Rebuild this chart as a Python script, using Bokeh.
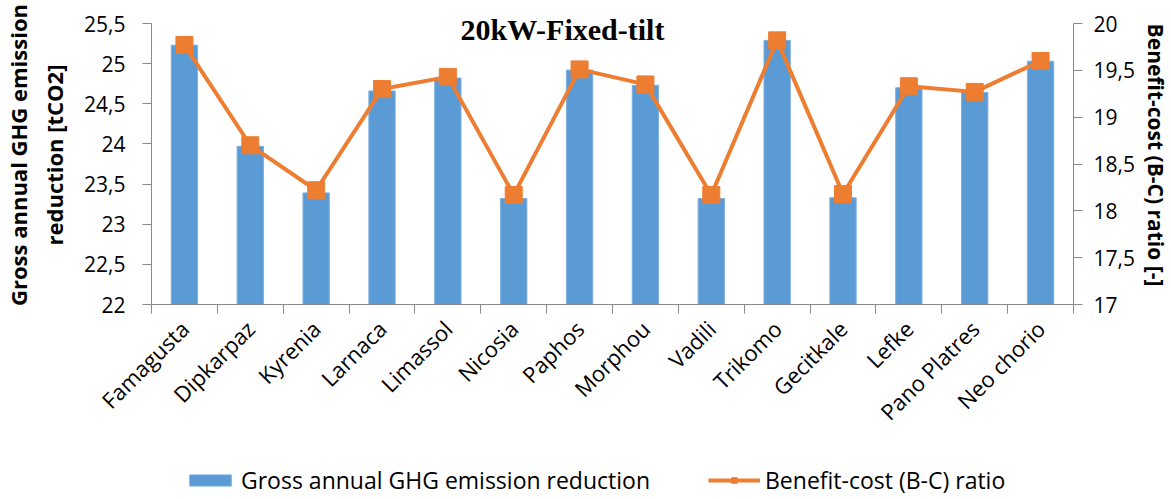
import math
from bokeh.plotting import figure
from bokeh.layouts import column
from bokeh.models import (Range1d, LinearAxis, FixedTicker, CustomJSTickFormatter,
                          Legend, LegendItem, Label, ColumnDataSource)
from bokeh.embed import file_html
from bokeh.resources import INLINE

# ---------------- data ----------------
categories = ["Famagusta", "Dipkarpaz", "Kyrenia", "Larnaca", "Limassol", "Nicosia",
              "Paphos", "Morphou", "Vadili", "Trikomo", "Gecitkale", "Lefke",
              "Pano Platres", "Neo chorio"]
ghg_reduction = [25.23, 23.97, 23.39, 24.66, 24.82, 23.32, 24.92, 24.73, 23.32,
                 25.29, 23.33, 24.70, 24.64, 25.03]
bc_ratio = [19.77, 18.70, 18.22, 19.30, 19.43, 18.17, 19.51, 19.35, 18.17,
            19.82, 18.18, 19.33, 19.27, 19.60]
left_ticks = [22, 22.5, 23, 23.5, 24, 24.5, 25, 25.5]
right_ticks = [17, 17.5, 18, 18.5, 19, 19.5, 20]
title_text = "20kW-Fixed-tilt"
left_label = "Gross annual GHG emission\nreduction [tCO2]"
right_label = "Benefit-cost (B-C) ratio [-]"
series_names = ["Gross annual GHG emission reduction", "Benefit-cost (B-C) ratio"]

BLUE = "#5B9BD5"
ORANGE = "#ED7D31"
AXIS = "#898989"
FONT = "Open Sans"

# layout: plot area of 281 px for the axes, plus headroom for the title
AXIS_PX = 281
HEAD_PX = 18
FRAME_W = 922
l_span = left_ticks[-1] - left_ticks[0]
r_span = right_ticks[-1] - right_ticks[0]
l_top = left_ticks[-1] + HEAD_PX * l_span / AXIS_PX
r_top = right_ticks[-1] + HEAD_PX * r_span / AXIS_PX

xpos = [i + 0.5 for i in range(len(categories))]
src = ColumnDataSource(dict(x=xpos, cat=categories, ghg=ghg_reduction, bc=bc_ratio))

p = figure(frame_width=FRAME_W, frame_height=AXIS_PX + HEAD_PX, output_backend="svg",
           toolbar_location=None,
           x_range=Range1d(0, len(categories)), y_range=Range1d(left_ticks[0], l_top),
           min_border_left=145, min_border_right=95, min_border_top=5,
           min_border_bottom=155)
p.extra_y_ranges = {"bc": Range1d(right_ticks[0], r_top)}
p.outline_line_color = None
p.xgrid.visible = False
p.ygrid.visible = False
p.background_fill_color = "white"
p.border_fill_color = "white"

bar_style = dict(fill_color=BLUE, line_color="#7FB0DE", line_width=1)
line_style = dict(line_color=ORANGE, line_width=4)
mark_style = dict(marker="square", size=17, fill_color=ORANGE, line_color=ORANGE)

bars = p.vbar(x="x", top="ghg", bottom=left_ticks[0], width=0.4, source=src, **bar_style)
ln = p.line(x="x", y="bc", source=src, y_range_name="bc", **line_style)
sq = p.scatter(x="x", y="bc", source=src, y_range_name="bc", **mark_style)

# x axis
xa = p.xaxis[0]
xa.ticker = FixedTicker(ticks=xpos, minor_ticks=list(range(len(categories) + 1)))
xa.formatter = CustomJSTickFormatter(args=dict(cats=categories),
                                     code="return cats[Math.floor(tick)];")
xa.major_label_orientation = math.pi / 4
xa.major_tick_out = 0
xa.major_tick_in = 0
xa.minor_tick_out = 9
xa.minor_tick_in = 0
xa.axis_line_color = AXIS
xa.minor_tick_line_color = AXIS
xa.major_label_text_font = FONT
xa.major_label_text_font_size = "22px"
xa.major_label_text_color = "#000000"
xa.major_label_standoff = 11

comma = CustomJSTickFormatter(code="return tick.toString().replace('.', ',');")

ya = p.yaxis[0]
ya.ticker = FixedTicker(ticks=left_ticks)
ya.bounds = (left_ticks[0], left_ticks[-1])
ya.formatter = comma
ya.major_tick_out = 9
ya.major_tick_in = 0
ya.minor_tick_line_color = None
ya.axis_line_color = AXIS
ya.major_tick_line_color = AXIS
ya.major_label_text_font = FONT
ya.major_label_text_font_size = "21px"
ya.major_label_text_color = "#000000"
ya.major_label_standoff = 17
ya.axis_label = left_label
ya.axis_label_text_font = FONT
ya.axis_label_text_font_style = "bold"
ya.axis_label_text_font_size = "22px"
ya.axis_label_text_color = "#000000"
ya.axis_label_standoff = 12

ra = LinearAxis(y_range_name="bc", ticker=FixedTicker(ticks=right_ticks), formatter=comma,
                bounds=(right_ticks[0], right_ticks[-1]))
ra.major_tick_out = 9
ra.major_tick_in = 0
ra.minor_tick_line_color = None
ra.axis_line_color = AXIS
ra.major_tick_line_color = AXIS
ra.major_label_text_font = FONT
ra.major_label_text_font_size = "21px"
ra.major_label_text_color = "#000000"
ra.major_label_standoff = 11
ra.axis_label = right_label
ra.axis_label_text_font = FONT
ra.axis_label_text_font_style = "bold"
ra.axis_label_text_font_size = "21px"
ra.axis_label_text_color = "#000000"
ra.axis_label_standoff = 4
p.add_layout(ra, "right")

title = Label(x=6.24, y=25.43, text=title_text, text_align="center",
              text_baseline="alphabetic", text_font="Liberation Serif",
              text_font_style="bold", text_font_size="30px", text_color="#000000")
p.add_layout(title)

# ---------------- legend strip ----------------
# same data and styles, viewed through ranges far away from the data,
# so only the legend swatches are visible in this strip
lg = figure(frame_width=FRAME_W, frame_height=36, output_backend="svg",
            toolbar_location=None, x_axis_location=None, y_axis_location=None,
            x_range=Range1d(1000, 1001), y_range=Range1d(1000, 1001),
            min_border_left=145, min_border_right=95, min_border_top=4,
            min_border_bottom=0)
lg.outline_line_color = None
lg.xgrid.visible = False
lg.ygrid.visible = False
lg_bar = lg.vbar(x="x", top="ghg", bottom=left_ticks[0], width=0.4, source=src, **bar_style)
lg_ln = lg.line(x="x", y="bc", source=src, **line_style)
lg_sq = lg.scatter(x="x", y="bc", source=src, **mark_style)

legend = Legend(items=[LegendItem(label=series_names[0], renderers=[lg_bar]),
                       LegendItem(label=series_names[1], renderers=[lg_ln, lg_sq])],
                orientation="horizontal", location=(33, 3),
                glyph_width=52, glyph_height=14, label_standoff=5, spacing=58,
                label_text_font=FONT, label_text_font_size="23px",
                label_text_color="#000000", border_line_color=None,
                background_fill_alpha=0, margin=0, padding=0)
lg.add_layout(legend)

layout = column(p, lg, spacing=0)
open("out.html", "w").write(file_html(layout, INLINE))
